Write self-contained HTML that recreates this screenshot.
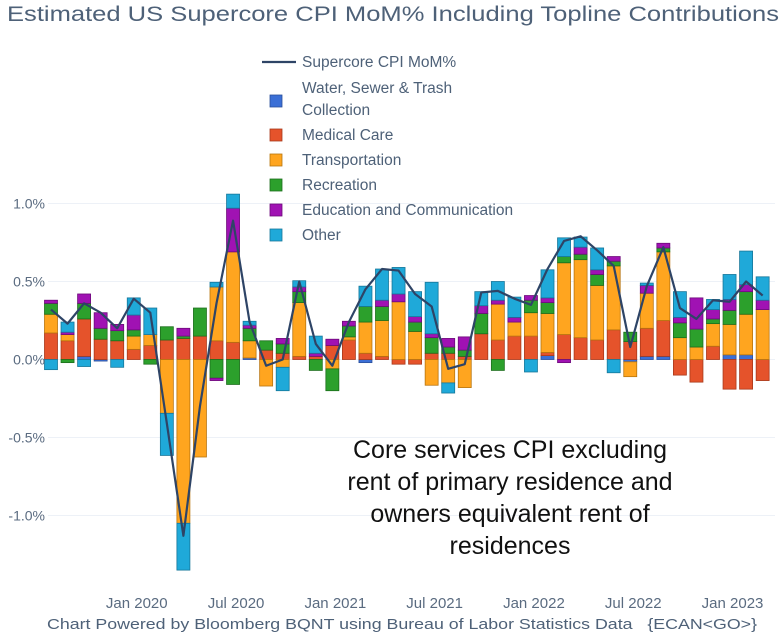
<!DOCTYPE html>
<html><head><meta charset="utf-8"><style>
body{margin:0;background:#fff;width:784px;height:633px;overflow:hidden;font-family:"Liberation Sans",sans-serif}
svg text{font-family:"Liberation Sans",sans-serif}
</style></head><body>
<svg id="c" width="784" height="633">
<text x="7" y="21" font-size="21" fill="#4e6178" textLength="772" lengthAdjust="spacingAndGlyphs">Estimated US Supercore CPI MoM% Including Topline Contributions</text>
<g id="grid"></g>
<g id="bars"></g>
<g id="linel"></g>
<g id="axes"></g>
<g id="legend"></g>
<g font-size="25" fill="#111" text-anchor="middle">
<text x="510" y="458">Core services CPI excluding</text>
<text x="510" y="490">rent of primary residence and</text>
<text x="510" y="522">owners equivalent rent of</text>
<text x="510" y="554">residences</text>
</g>
<text x="47" y="629" font-size="15" fill="#4e6178" textLength="710" lengthAdjust="spacingAndGlyphs">Chart Powered by Bloomberg BQNT using Bureau of Labor Statistics Data &#160;&#160;{ECAN&lt;GO&gt;}</text>
</svg>
<script>
const months=["Aug19","Sep19","Oct19","Nov19","Dec19","Jan20","Feb20","Mar20","Apr20","May20","Jun20","Jul20","Aug20","Sep20","Oct20","Nov20","Dec20","Jan21","Feb21","Mar21","Apr21","May21","Jun21","Jul21","Aug21","Sep21","Oct21","Nov21","Dec21","Jan22","Feb22","Mar22","Apr22","May22","Jun22","Jul22","Aug22","Sep22","Oct22","Nov22","Dec22","Jan23","Feb23","Mar23"];
const water=[0,0,0.02,-0.01,0,0,0,0,0,0,0,0,0.01,0,0,0,0,0,0,-0.02,0,0,0,0,0,0,0,0,0,0,0.025,0,0,0,0,-0.015,0.02,0.02,0,0,0,0.03,0.03,0];
const medical=[0.17,0.12,0.24,0.13,0.12,0.065,0.09,0.125,0.135,0.15,0.12,0.11,0,0.06,0.04,0.02,0.02,0.09,0.125,0.04,0.02,-0.03,-0.03,0.04,0.04,0.02,0.165,0.125,0.15,0.15,0.02,0.16,0.14,0.125,0.19,0.115,0.18,0.23,-0.1,-0.145,0.085,-0.19,-0.19,-0.135];
const transport=[0.12,0.04,0,0,0,0.085,0.07,-0.345,-1.05,-0.625,0.345,0.58,0.11,-0.17,-0.05,0.345,0,-0.06,0.02,0.2,0.23,0.37,0.18,-0.165,-0.15,-0.18,0,0.23,0.09,0.15,0.25,0.46,0.5,0.35,0.41,-0.095,0.225,0.44,0.14,0.08,0.145,0.195,0.26,0.32];
const recreation=[0.07,-0.02,0.1,0.07,0.065,0.04,-0.03,0.085,0.015,0.18,-0.12,-0.16,0.08,0.06,0.06,0.07,-0.07,-0.14,0.07,0.1,0.09,0,0.06,0.1,0.04,0.04,0.13,-0.07,0,0.08,0.07,0.04,0.035,0.07,0.03,0.06,0,0.025,0.095,0.115,0.03,0.09,0.145,0];
const education=[0.02,0.015,0.06,0.1,0.04,0.095,0,0,0.05,0,-0.015,0.28,0.02,0,0.035,0.03,0.02,0.04,0.03,0,0.04,0.05,0.035,0.025,0.055,0.085,0.05,0.025,0.03,0.03,0.03,-0.02,0.045,0.03,0.03,0,0.05,0.03,0.035,0.2,0.06,0.07,0.045,0.06];
const other=[-0.065,0.065,-0.045,0,-0.05,0.11,0.17,-0.27,-0.3,0,0.03,0.09,0.025,0,-0.15,0.04,0.11,0,0,0.13,0.2,0.17,0.16,0.33,-0.065,0,0.09,0.12,0.13,-0.08,0.18,0.12,0.065,0.14,-0.085,0,0.015,0,0.165,0,0.065,0.16,0.215,0.15];
const supercore=[0.32,0.23,0.36,0.3,0.2,0.39,0.3,-0.41,-1.13,-0.3,0.36,0.89,0.24,-0.04,0.0,0.5,0.1,-0.04,0.24,0.45,0.58,0.57,0.42,0.34,-0.06,-0.03,0.43,0.44,0.39,0.35,0.58,0.76,0.79,0.7,0.6,0.08,0.47,0.72,0.33,0.26,0.38,0.37,0.5,0.41];
const yTicks=[1.0,0.5,0.0,-0.5,-1.0];
const yTickLabels=["1.0%","0.5%","0.0%","-0.5%","-1.0%"];
const xTickIdx=[5,11,17,23,29,35,41];
const xTickLabels=["Jan 2020","Jul 2020","Jan 2021","Jul 2021","Jan 2022","Jul 2022","Jan 2023"];

const NS="http://www.w3.org/2000/svg";
const X=i=>51+i*16.55;
const Y=v=>359.5-v*156;
function mk(tag,attrs,parent){const e=document.createElementNS(NS,tag);for(const k in attrs)e.setAttribute(k,attrs[k]);parent.appendChild(e);return e;}
const grid=document.getElementById('grid'),axes=document.getElementById('axes');
yTicks.forEach((t,i)=>{
  const l=mk('line',{x1:48,x2:775,y1:Y(t),y2:Y(t),stroke:'#edf1f7','stroke-width':1},grid);
  
  
  const tx=mk('text',{x:45,y:Y(t)+5,'text-anchor':'end','font-size':14,fill:'#5a6b80'},axes);
  tx.textContent=yTickLabels[i];
  
  
});
xTickIdx.forEach((m,i)=>{
  const tx=mk('text',{x:X(m)+3,y:608,'text-anchor':'middle','font-size':15,fill:'#5a6b80'},axes);
  tx.textContent=xTickLabels[i];
  
  
});
const series=[["water",water,"#3b6fd6","#2a4f9a"],["medical",medical,"#e5532b","#a8391b"],["transport",transport,"#ffa51f","#b87510"],["recreation",recreation,"#2ca02c","#1c6e1c"],["education",education,"#a012b3","#6d0b7a"],["other",other,"#1fa9d9","#16779a"]];
const bars=document.getElementById('bars');
months.forEach((m,i)=>{
  let pos=0,neg=0;
  series.forEach(s=>{
    const v=s[1][i]; if(!v) return;
    let y0,y1;
    if(v>0){y0=pos;pos+=v;y1=pos;}else{y0=neg;neg+=v;y1=neg;}
    const top=Math.min(Y(y0),Y(y1)),h=Math.abs(Y(y1)-Y(y0));
    const r=mk('rect',{x:X(i)-6.5,y:top,width:13,height:h,fill:s[2],stroke:s[3],'stroke-width':0.8},bars);
    
    
  });
});
const pl=mk('polyline',{points:supercore.map((v,i)=>X(i)+','+Y(v)).join(' '),fill:'none',stroke:'#2e4466','stroke-width':2.2,'stroke-linejoin':'round'},document.getElementById('linel'));


const lg=document.getElementById('legend');
const ll=mk('line',{x1:262,x2:296,y1:62,y2:62,stroke:'#2e4466','stroke-width':2.2},lg);


const legItems=[["Supercore CPI MoM%",null,67],["Water, Sewer & Trash",series[0],93],["Medical Care",series[1],140],["Transportation",series[2],165],["Recreation",series[3],190],["Education and Communication",series[4],215],["Other",series[5],240]];
legItems.forEach(it=>{
  if(it[1]){
    const sq=mk('rect',{x:270,y:it[2]-(it[0].startsWith('Water')?-2:11),width:12,height:12,fill:it[1][2],stroke:it[1][3],'stroke-width':0.8},lg);
    
    
  }
  const t=mk('text',{x:302,y:it[2],'font-size':15.5,fill:'#4e6178'},lg);
  t.textContent=it[0];
  
  
});
const t2=mk('text',{x:302,y:115,'font-size':15.5,fill:'#4e6178'},lg);
t2.textContent="Collection";


</script>
</body></html>
